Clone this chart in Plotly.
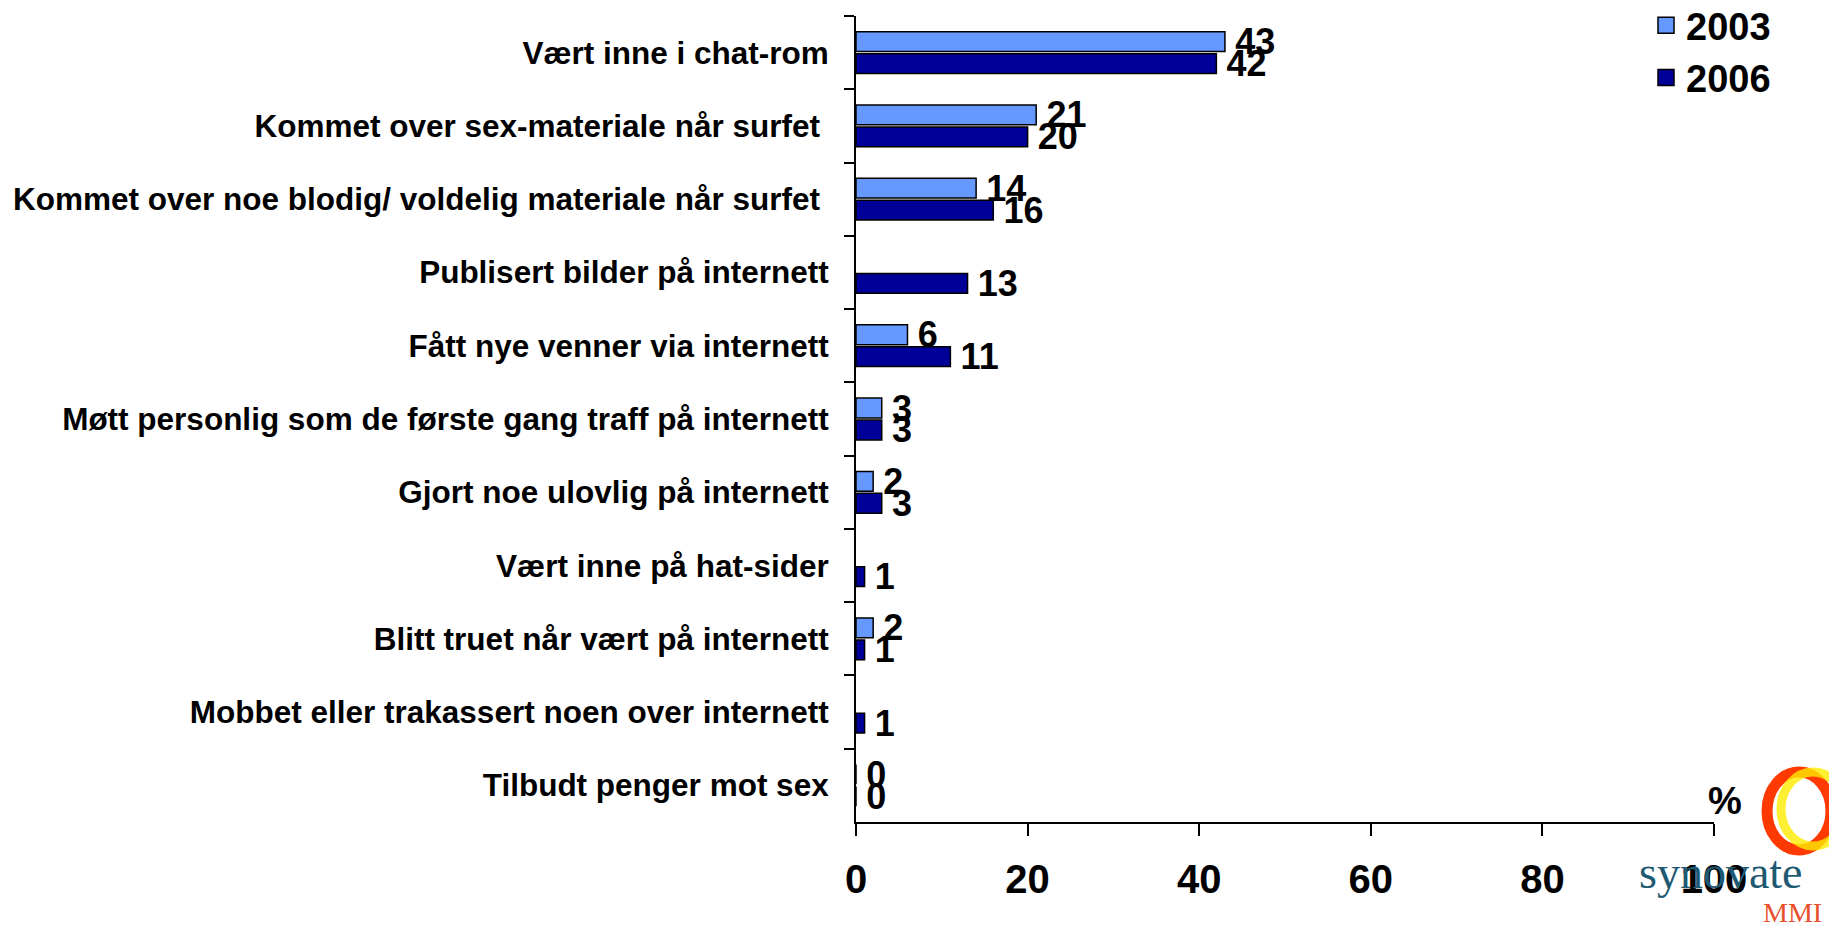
import plotly.graph_objects as go

categories = [
    "Vært inne i chat-rom",
    "Kommet over sex-materiale når surfet\u00a0",
    "Kommet over noe blodig/ voldelig materiale når surfet\u00a0",
    "Publisert bilder på internett",
    "Fått nye venner via internett",
    "Møtt personlig som de første gang traff på internett",
    "Gjort noe ulovlig på internett",
    "Vært inne på hat-sider",
    "Blitt truet når vært på internett",
    "Mobbet eller trakassert noen over internett",
    "Tilbudt penger mot sex",
]
values_2003 = [43, 21, 14, None, 6, 3, 2, None, 2, None, 0]
values_2006 = [42, 20, 16, 13, 11, 3, 3, 1, 1, 1, 0]
series_names = ["2003", "2006"]
series_colors = ["#6699FF", "#000099"]
x_ticks = [0, 20, 40, 60, 80, 100]

OFF = 8  # default page body margin
W, H = 1837 - OFF, 929 - OFF
# plot area in screen pixels
L, R, T, B = 856, 1714, 16, 822
FONT = "Liberation Sans, Arial, sans-serif"


def px(x):
    return (x - L) / (R - L)


def py(y):
    return (B - y) / (B - T)


fig = go.Figure()
for name, vals, col in zip(series_names, [values_2003, values_2006], series_colors):
    fig.add_trace(go.Bar(
        name=name,
        y=categories,
        x=vals,
        orientation="h",
        legendgroup=name,
        showlegend=False,
        marker=dict(color=col, line=dict(color="black", width=1.5)),
        text=[("" if v is None else "\u2009" + str(v)) for v in vals],
        textposition="outside",
        constraintext="none",
        cliponaxis=False,
        textfont=dict(family=FONT, size=36, color="black", weight="bold"),
    ))
# legend entries with larger square swatches
for name, col in zip(series_names, series_colors):
    fig.add_trace(go.Scatter(
        name=name, x=[None], y=[None], mode="markers", legendgroup=name,
        marker=dict(symbol="square", size=16, color=col, line=dict(color="black", width=1.5)),
        showlegend=True, hoverinfo="skip",
    ))

shapes = []
# logo ring (decorative)
shapes.append(dict(type="circle", xref="paper", yref="paper",
                   x0=px(1767), x1=px(1831), y0=py(850), y1=py(772),
                   line=dict(color="#FF3A00", width=11)))
shapes.append(dict(type="circle", xref="paper", yref="paper",
                   x0=px(1781), x1=px(1845), y0=py(846), y1=py(772),
                   line=dict(color="rgba(255,235,0,0.8)", width=9)))

annotations = [
    dict(text="%", xref="paper", yref="paper", x=px(1725), y=py(801),
         xanchor="center", yanchor="middle",
         showarrow=False, font=dict(family=FONT, size=38, color="black", weight="bold")),
    dict(text="synovate", xref="paper", yref="paper", x=px(1721), y=py(872),
         xanchor="center", yanchor="middle",
         showarrow=False, font=dict(family="Liberation Serif, Times New Roman, serif", size=46, color="#1F5A73")),
    dict(text="MMI", xref="paper", yref="paper", x=px(1792), y=py(913),
         xanchor="center", yanchor="middle",
         showarrow=False, font=dict(family="Liberation Serif, Times New Roman, serif", size=28, color="#E8502A")),
]

fig.update_layout(
    width=W, height=H,
    margin=dict(l=L - OFF, r=W - (R - OFF), t=T - OFF, b=H - (B - OFF), pad=0, autoexpand=False),
    paper_bgcolor="white", plot_bgcolor="white",
    barmode="group", bargap=0.4, bargroupgap=0.1,
    showlegend=True,
    legend=dict(x=px(1646), y=py(-6), xanchor="left", yanchor="top",
                font=dict(family=FONT, size=38, color="black", weight="bold"),
                bgcolor="rgba(0,0,0,0)", tracegroupgap=0, itemwidth=30,
                itemsizing="trace"),
    shapes=shapes,
    annotations=annotations,
    font=dict(family=FONT, color="black"),
)
fig.update_xaxes(
    range=[0, 100], tickvals=x_ticks, ticktext=[str(t) for t in x_ticks],
    showgrid=False, zeroline=False, showline=True, linecolor="black", linewidth=2,
    ticks="outside", ticklen=12, tickwidth=2, tickcolor="black",
    tickfont=dict(family=FONT, size=40, color="black", weight="bold"),
    ticklabelstandoff=9, automargin=False,
)
fig.update_yaxes(
    type="category", autorange="reversed",
    showgrid=False, zeroline=False, showline=True, linecolor="black", linewidth=2,
    ticks="outside", ticklen=10, tickwidth=2, tickcolor="black", tickson="boundaries",
    tickfont=dict(family=FONT, size=31.5, color="black", weight="bold"),
    ticklabelstandoff=19, automargin=False,
)

fig.write_html("out.html")
